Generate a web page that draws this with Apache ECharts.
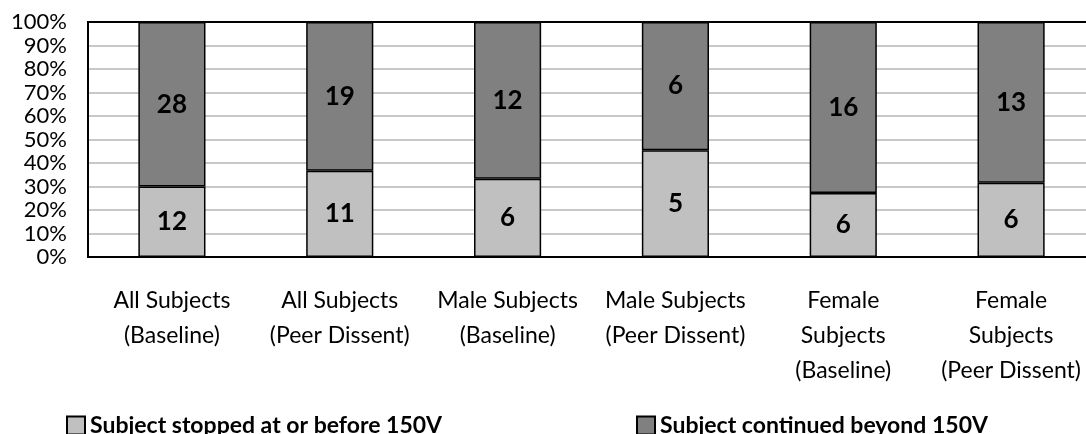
<!DOCTYPE html>
<html><head><meta charset="utf-8">
<script src="https://cdn.jsdelivr.net/npm/echarts@6/dist/echarts.min.js"></script>
<style>html,body{margin:0;padding:0;background:#fff;overflow:hidden}#c{width:1086px;height:434px}</style>
</head><body><div id="c"></div>
<script>
const categories = [
  "All Subjects\n(Baseline)",
  "All Subjects\n(Peer Dissent)",
  "Male Subjects\n(Baseline)",
  "Male Subjects\n(Peer Dissent)",
  "Female\nSubjects\n(Baseline)",
  "Female\nSubjects\n(Peer Dissent)"
];
const stoppedCounts = [12, 11, 6, 5, 6, 6];
const continuedCounts = [28, 19, 12, 6, 16, 13];
const seriesNames = ["Subject stopped at or before 150V", "Subject continued beyond 150V"];
const yTickValues = [0, 10, 20, 30, 40, 50, 60, 70, 80, 90, 100];

const FONT = 'Lato, "Open Sans", sans-serif';
const totals = stoppedCounts.map((v, i) => v + continuedCounts[i]);
const toPct = arr => arr.map((v, i) => ({ value: v / totals[i] * 100, count: v }));

const chart = echarts.init(document.getElementById('c'), null, { renderer: 'canvas' });
const labelCfg = {
  show: true, position: 'inside', formatter: p => p.data.count,
  color: '#000', fontFamily: FONT, fontWeight: 'bold', fontSize: 26
};
const legendText = { color: '#000', fontFamily: FONT, fontWeight: 'bold', fontSize: 23 };
chart.setOption({
  animation: false,
  backgroundColor: '#fff',
  grid: { left: 88, right: -9, top: 22, bottom: 177, containLabel: false, outerBoundsMode: 'none',
          show: true, borderColor: '#000', borderWidth: 2, backgroundColor: 'transparent' },
  xAxis: {
    type: 'category', data: categories,
    axisTick: { show: false },
    axisLine: { lineStyle: { color: '#000', width: 2 } },
    axisLabel: { interval: 0, color: '#000', fontFamily: FONT, fontSize: 23, lineHeight: 35, margin: 26 }
  },
  yAxis: {
    type: 'value', min: yTickValues[0], max: yTickValues[yTickValues.length - 1], interval: 10,
    axisLine: { show: true, lineStyle: { color: '#000', width: 2 } },
    axisTick: { show: false },
    splitLine: { show: true, showMinLine: false, showMaxLine: false, lineStyle: { color: '#c8c8c8', width: 2 } },
    axisLabel: { formatter: '{value}%', color: '#000', fontFamily: FONT, fontSize: 22, margin: 21 }
  },
  legend: [
    { data: [seriesNames[0]], left: 61, top: 409, itemWidth: 18, itemHeight: 18, icon: 'rect',
      itemStyle: { borderColor: '#000', borderWidth: 2 }, textStyle: legendText },
    { data: [seriesNames[1]], left: 631, top: 409, itemWidth: 18, itemHeight: 18, icon: 'rect',
      itemStyle: { borderColor: '#000', borderWidth: 2 }, textStyle: legendText }
  ],
  series: [
    { name: seriesNames[0], type: 'bar', stack: 'all', barWidth: '40%', data: toPct(stoppedCounts),
      itemStyle: { color: '#c0c0c0', borderColor: '#000', borderWidth: 1.5 }, label: labelCfg },
    { name: seriesNames[1], type: 'bar', stack: 'all', barWidth: '40%', data: toPct(continuedCounts),
      itemStyle: { color: '#808080', borderColor: '#000', borderWidth: 1.5 }, label: labelCfg }
  ]
});
</script></body></html>
